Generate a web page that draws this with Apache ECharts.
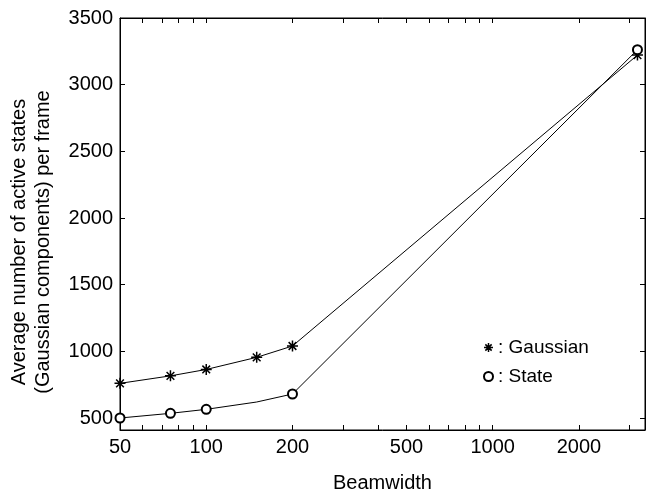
<!DOCTYPE html>
<html>
  <head>
    <title></title>
    <meta charset="UTF-8" />
    <script src="https://cdn.jsdelivr.net/npm/echarts@6/dist/echarts.min.js"></script>
  </head>
  <body style="margin:0">
    <div id="main"></div>
    <script>
      const beamwidth = [50, 75, 100, 150, 200, 3200];
      const gaussian = [760, 816, 864, 955, 1040, 3222];
      const state = [500, 535, 565, 620, 680, 3262];
      // state has no marker at 150
      const stateMarked = [true, true, true, false, true, true];

      const xLabels = [50, 100, 200, 500, 1000, 2000];
      const xTicks = [50, 60, 70, 80, 90, 100, 200, 300, 400, 500, 600, 700, 800, 900, 1000, 2000, 3000];
      const yLabels = [500, 1000, 1500, 2000, 2500, 3000, 3500];

      const width = 647;
      const height = 493;
      const main = document.getElementById('main');
      main.style.width = `${width}px`;
      main.style.height = `${height}px`;

      const font = "'Liberation Sans', Arial, sans-serif";
      const star = 'path://M5,0L5,10M0,5L10,5M1.5,1.5L8.5,8.5M8.5,1.5L1.5,8.5';

      const myChart = echarts.init(main);
      const option = {
        backgroundColor: '#fff',
        animation: false,
        textStyle: { fontFamily: font, color: '#000' },
        grid: {
          left: 120,
          right: 2,
          top: 18,
          bottom: 63,
          outerBoundsMode: 'none',
          containLabel: false,
          show: true,
          borderColor: '#000',
          borderWidth: 1,
        },
        legend: {
          orient: 'vertical',
          left: 478,
          top: 333,
          itemWidth: 9,
          itemHeight: 9,
          itemGap: 10,
          formatter: (n) => ': ' + n,
          textStyle: { fontFamily: font, fontSize: 19, color: '#000' },
          data: [
            { name: 'Gaussian', icon: star, itemStyle: { color: '#000', borderColor: '#000', borderWidth: 1.5 } },
            { name: 'State', icon: 'emptyCircle', itemStyle: { color: '#000', borderColor: '#000', borderWidth: 1 } },
          ],
        },
        xAxis: [
          {
            type: 'log',
            min: 50,
            max: 3400,
            name: 'Beamwidth',
            nameLocation: 'middle',
            nameGap: 43,
            nameTextStyle: { fontSize: 20, color: '#000', fontFamily: font },
            axisLine: { lineStyle: { color: '#000' } },
            axisTick: { inside: true, length: 5, customValues: xTicks, lineStyle: { color: '#000' } },
            axisLabel: { customValues: xLabels, fontSize: 20, color: '#000', margin: 7, formatter: (v) => String(v) },
            splitLine: { show: false },
            minorTick: { show: false },
          },
          {
            type: 'log',
            position: 'top',
            min: 50,
            max: 3400,
            axisLine: { lineStyle: { color: '#000' } },
            axisTick: { inside: true, length: 5, customValues: xTicks, lineStyle: { color: '#000' } },
            axisLabel: { show: false },
            splitLine: { show: false },
          },
        ],
        yAxis: [
          {
            type: 'value',
            min: 410,
            max: 3500,
            name: 'Average number of active states\n(Gaussian components) per frame',
            nameLocation: 'middle',
            nameGap: 65,
            nameTextStyle: { fontSize: 20, lineHeight: 24, color: '#000', fontFamily: font, padding: [0, 36, 0, 0] },
            axisLine: { show: true, lineStyle: { color: '#000' } },
            axisTick: { show: true, inside: true, length: 5, customValues: yLabels, lineStyle: { color: '#000' } },
            axisLabel: { customValues: yLabels, fontSize: 20, color: '#000', margin: 7, formatter: (v) => String(v) },
            splitLine: { show: false },
          },
          {
            type: 'value',
            position: 'right',
            min: 410,
            max: 3500,
            axisLine: { show: true, lineStyle: { color: '#000' } },
            axisTick: { show: true, inside: true, length: 5, customValues: yLabels, lineStyle: { color: '#000' } },
            axisLabel: { show: false },
            splitLine: { show: false },
          },
        ],
        series: [
          {
            name: 'Gaussian',
            type: 'line',
            symbol: star,
            symbolSize: 11,
            data: beamwidth.map((b, i) => [b, gaussian[i]]),
            lineStyle: { color: '#000', width: 1 },
            itemStyle: { color: '#000', borderColor: '#000', borderWidth: 1.5 },
          },
          {
            name: 'State',
            type: 'line',
            symbol: 'emptyCircle',
            symbolSize: 9,
            data: beamwidth.map((b, i) =>
              stateMarked[i] ? [b, state[i]] : { value: [b, state[i]], symbol: 'none' }
            ),
            lineStyle: { color: '#000', width: 1 },
            itemStyle: { color: '#000', borderColor: '#000', borderWidth: 1 },
          },
        ],
      };
      myChart.setOption(option);
    </script>
  </body>
</html>
